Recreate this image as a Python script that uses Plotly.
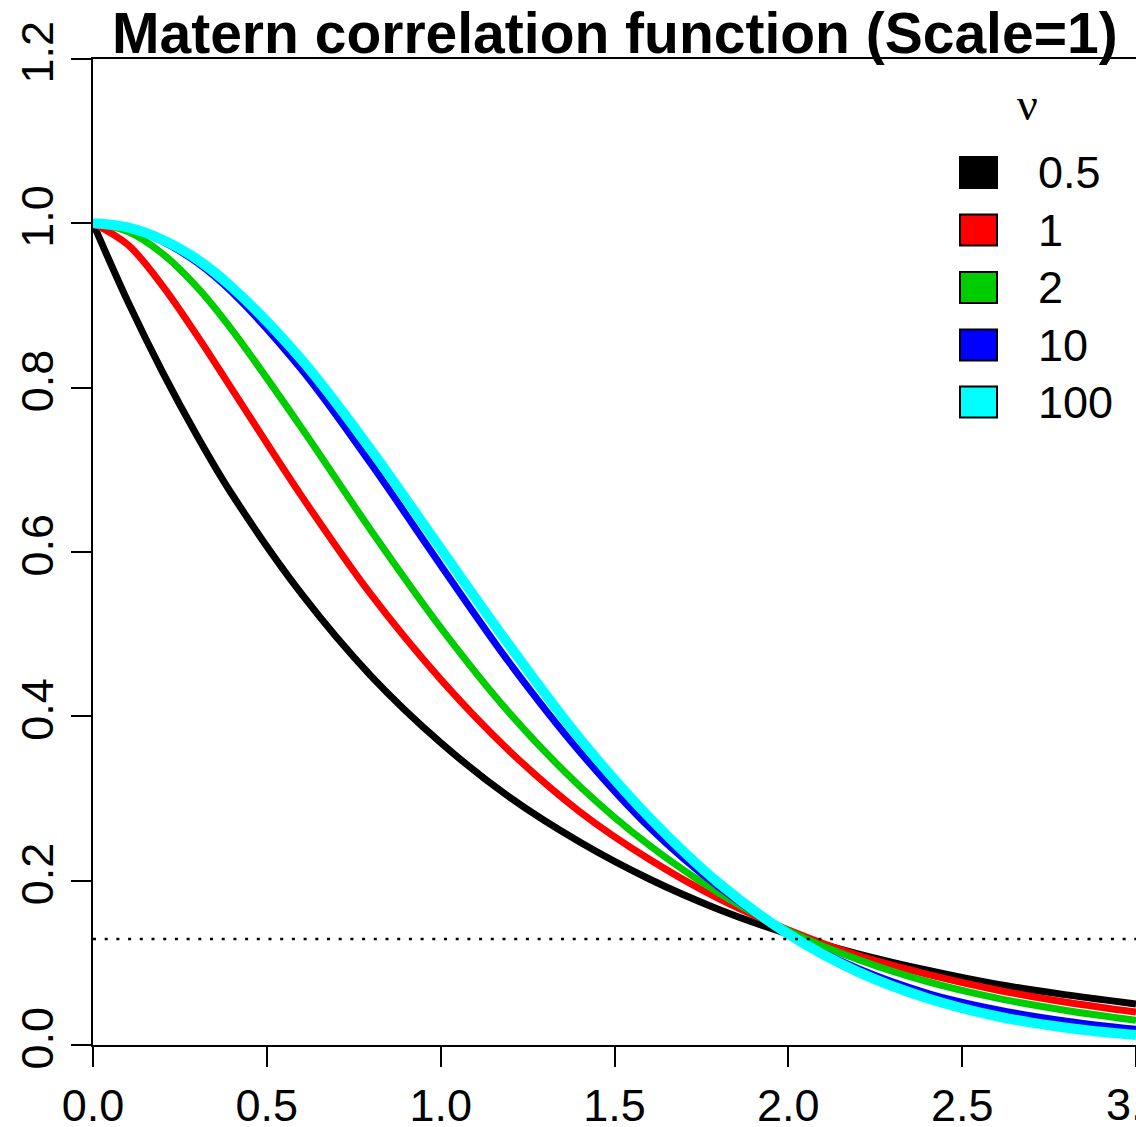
import plotly.graph_objects as go

# ---------------- data ----------------
distance = [0, 0.1, 0.2, 0.3, 0.4, 0.6, 0.8, 1.0, 1.2, 1.4, 1.6, 1.8, 2.0, 2.2, 2.4, 2.6, 2.8, 3.0]

nu_labels = ["0.5", "1", "2", "10", "100"]
series_colors = ["#000000", "#FF0000", "#00CD00", "#0000FF", "#00FFFF"]

corr_nu_0_5 = [1.0, 0.905, 0.819, 0.741, 0.670, 0.549, 0.449, 0.368, 0.301, 0.247, 0.202, 0.165, 0.135, 0.111, 0.091, 0.074, 0.061, 0.050]
corr_nu_1 = [1.0, 0.974, 0.924, 0.863, 0.798, 0.668, 0.548, 0.445, 0.357, 0.284, 0.226, 0.178, 0.140, 0.109, 0.086, 0.067, 0.052, 0.040]
corr_nu_2 = [1.0, 0.990, 0.963, 0.922, 0.870, 0.751, 0.626, 0.508, 0.403, 0.315, 0.243, 0.185, 0.139, 0.104, 0.077, 0.057, 0.042, 0.030]
corr_nu_10 = [1.0, 0.995, 0.978, 0.952, 0.916, 0.822, 0.707, 0.584, 0.464, 0.357, 0.265, 0.192, 0.135, 0.093, 0.063, 0.043, 0.029, 0.019]
corr_nu_100 = [1.0, 0.995, 0.980, 0.956, 0.922, 0.834, 0.724, 0.604, 0.485, 0.373, 0.277, 0.197, 0.135, 0.089, 0.057, 0.035, 0.021, 0.012]

ref_level = [0.129, 0.129]
ref_x = [0, 3]

x_ticks = [0.0, 0.5, 1.0, 1.5, 2.0, 2.5, 3.0]
x_tick_text = ["0.0", "0.5", "1.0", "1.5", "2.0", "2.5", "3.0"]
y_ticks = [0.0, 0.2, 0.4, 0.6, 0.8, 1.0, 1.2]
y_tick_text = ["0.0", "0.2", "0.4", "0.6", "0.8", "1.0", "1.2"]

title_text = "Matern correlation function (Scale=1)"
legend_title = "ν"

# ---------------- figure ----------------
W, H = 1136, 1127
ML, MR, MT, MB = 93, 0, 59, 82
PW, PH = W - ML - MR, H - MT - MB

def px2paper_x(px):
    return (px - ML) / PW

def px2paper_y(py):
    return (H - MB - py) / PH

SANS = "Liberation Sans, Arial, sans-serif"

all_series = [corr_nu_0_5, corr_nu_1, corr_nu_2, corr_nu_10, corr_nu_100]
widths = [7, 7, 7, 7, 10]

fig = go.Figure()
for lab, col, ys, w in zip(nu_labels, series_colors, all_series, widths):
    fig.add_trace(go.Scatter(
        x=distance, y=ys, mode="lines", name=lab,
        line=dict(color=col, width=w, shape="spline", smoothing=1.0),
        showlegend=False,
    ))

fig.add_trace(go.Scatter(
    x=ref_x, y=ref_level, mode="lines", showlegend=False,
    line=dict(color="black", width=2.5, dash="3px,8.7px"),
))

axis_common = dict(
    showgrid=False, zeroline=False, showline=True, linecolor="black", linewidth=2,
    ticks="outside", ticklen=20, tickwidth=2, tickcolor="black",
    tickfont=dict(family=SANS, size=45, color="black"),
)

fig.update_xaxes(range=[0, 3], tickvals=x_ticks, ticktext=x_tick_text,
                 mirror=True, **axis_common)
fig.update_yaxes(range=[0, 1.2], tickvals=y_ticks, ticktext=y_tick_text,
                 tickangle=-90, **axis_common)

shapes = []
annotations = []

# title
annotations.append(dict(
    text="<b>" + title_text + "</b>", xref="paper", yref="paper",
    x=px2paper_x(615), y=px2paper_y(33), xanchor="center", yanchor="middle",
    showarrow=False, font=dict(family=SANS, size=57, color="black"),
))

# last x tick label, cut by the right edge as in the reference
annotations.append(dict(
    text=x_tick_text[-1], xref="paper", yref="paper",
    x=px2paper_x(1137), y=px2paper_y(1104), xanchor="center", yanchor="middle",
    showarrow=False, font=dict(family=SANS, size=45, color="black"),
))

# legend
annotations.append(dict(
    text=legend_title, xref="paper", yref="paper",
    x=px2paper_x(1027), y=px2paper_y(104), xanchor="center", yanchor="middle",
    showarrow=False, font=dict(family="Liberation Serif, DejaVu Serif, serif", size=46, color="black"),
))
row_centers = [172.5, 230, 287.5, 345, 402]
for lab, col, cy in zip(nu_labels, series_colors, row_centers):
    shapes.append(dict(
        type="rect", xref="paper", yref="paper",
        x0=px2paper_x(960), x1=px2paper_x(997),
        y0=px2paper_y(cy + 15.5), y1=px2paper_y(cy - 15.5),
        fillcolor=col, line=dict(color="black", width=2),
    ))
    annotations.append(dict(
        text=lab, xref="paper", yref="paper",
        x=px2paper_x(1036), y=px2paper_y(cy), xanchor="left", yanchor="middle",
        showarrow=False, font=dict(family=SANS, size=45, color="black"),
    ))

fig.update_layout(
    width=W, height=H,
    margin=dict(l=ML, r=MR, t=MT, b=MB, pad=0, autoexpand=False),
    paper_bgcolor="white", plot_bgcolor="white",
    shapes=shapes, annotations=annotations,
    showlegend=False,
)

fig.write_html("out.html")
